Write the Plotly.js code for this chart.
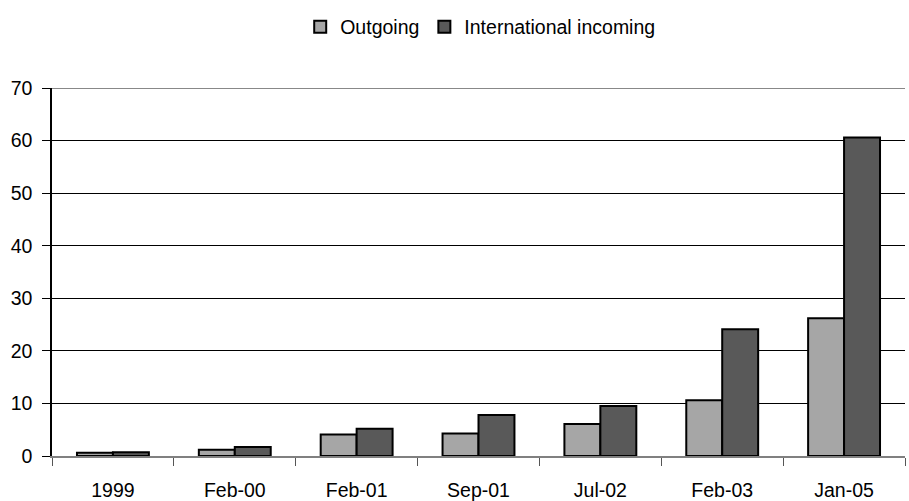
<!DOCTYPE html>
<html><head><meta charset="utf-8">
<script src="https://cdn.plot.ly/plotly-3.0.1.min.js"></script>
<style>html,body{margin:0;padding:0;background:#fff}#c{width:909px;height:501px}</style>
</head><body><div id="c"></div>
<script>
const categories = ["1999","Feb-00","Feb-01","Sep-01","Jul-02","Feb-03","Jan-05"];
const outgoing = [0.6, 1.2, 4.1, 4.3, 6.1, 10.6, 26.2];
const incoming = [0.7, 1.7, 5.2, 7.8, 9.5, 24.1, 60.6];
const yTicks = [0,10,20,30,40,50,60,70];

const traces = [
  {type:"bar", name:"Outgoing", x:categories, y:outgoing,
   marker:{color:"#a6a6a6", line:{color:"#000", width:2}}},
  {type:"bar", name:"International incoming", x:categories, y:incoming,
   marker:{color:"#595959", line:{color:"#000", width:2}}}
];
const layout = {
  width:909, height:501,
  margin:{l:52, r:4, t:88, b:45, autoexpand:false},
  paper_bgcolor:"#fff", plot_bgcolor:"#fff",
  font:{family:"Liberation Sans, Arial, sans-serif", size:19.5, color:"#000"},
  barmode:"group", bargap:0.41, bargroupgap:0,
  showlegend:true,
  legend:{orientation:"h", x:0.502, xanchor:"center", yref:"container", y:1-27/501, yanchor:"middle",
          font:{size:19.5}, tracegroupgap:0, traceorder:"normal", itemwidth:30},
  xaxis:{type:"category", showgrid:false, showline:true, linecolor:"#808080", linewidth:1.5,
         ticks:"outside", tickson:"boundaries", ticklen:8, tickcolor:"#555",
         tickfont:{size:19.5}, ticklabelstandoff:16},
  yaxis:{range:[0,70], tickvals:yTicks, showgrid:true, gridcolor:"#000", gridwidth:1,
         zeroline:false, showline:true, linecolor:"#000", linewidth:1.5,
         ticks:"outside", ticklen:8, tickcolor:"#000", tickfont:{size:19.5}, ticklabelstandoff:6},
  shapes:[{type:"line", xref:"paper", yref:"y", x0:0, x1:1, y0:70, y1:70,
           line:{color:"#888", width:2}}]
};
Plotly.newPlot("c", traces, layout, {displayModeBar:false});
</script></body></html>
